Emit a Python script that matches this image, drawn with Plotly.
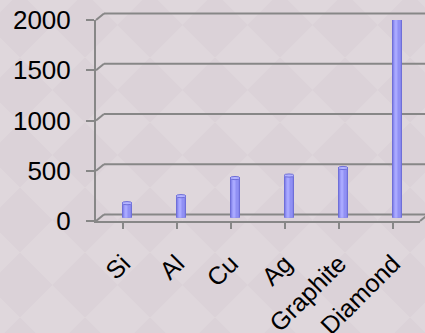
import plotly.graph_objects as go

# ---- data ----
categories = ["Si", "Al", "Cu", "Ag", "Graphite", "Diamond"]
values = [145, 215, 395, 420, 495, 2000]
y_ticks = [0, 500, 1000, 1500, 2000]

# ---- layout geometry (pixels) ----
W, H = 425, 333
L, R = 96, 420          # front plane x extent
Y0, YT = 221, 20        # front plane: pixel of value 0 and of value 2000
YMAX = 2000
DX, DY = 8, 6.5         # depth offset of back wall (right, up)
BAR_PX = 10

n = len(categories)
cat_px = (R - L) / n
val_px = (Y0 - YT) / YMAX

def px_to_paper_x(px):
    return (px - L) / (R - L)

def py_to_paper_y(py):
    return (Y0 - py) / (Y0 - YT)

def front_y(v):
    return Y0 - v * val_px

BG_LIGHT = "rgb(223,215,220)"
BG_DARK = "rgb(219,210,216)"
GRID = "rgb(135,135,135)"

fig = go.Figure()

# invisible trace so the front axes (ticks, labels) are rendered
fig.add_trace(go.Scatter(x=list(range(n)), y=values, mode="none", xaxis="x", yaxis="y",
                         hoverinfo="skip", showlegend=False))

# cylinder bars drawn on the mid-depth plane (x2/y2)
bw = BAR_PX / cat_px
fig.add_trace(go.Bar(x=list(range(n)), y=values, width=bw, marker=dict(color="#6f6fd8", line=dict(width=0)),
                     xaxis="x2", yaxis="y2", hoverinfo="skip"))
fig.add_trace(go.Bar(x=list(range(n)), y=values, width=bw * 0.75, marker=dict(color="#9090f4", line=dict(width=0)),
                     xaxis="x2", yaxis="y2", hoverinfo="skip"))
fig.add_trace(go.Bar(x=list(range(n)), y=values, width=bw * 0.3, offset=-bw * 0.25,
                     marker=dict(color="#a9a9ff", line=dict(width=0)),
                     xaxis="x2", yaxis="y2", hoverinfo="skip"))

shapes = []

# decorative diamond lattice background (very subtle)
P = 65
h = P / 2
for k in range(-1, 8):
    for m in range(-1, 6):
        cx, cy = 20 + P * k, 25 + P * m
        pts = [(cx - h, cy), (cx, cy - h), (cx + h, cy), (cx, cy + h)]
        path = "M " + " L ".join(f"{px_to_paper_x(a):.5f},{py_to_paper_y(b):.5f}" for a, b in pts) + " Z"
        shapes.append(dict(type="path", xref="paper", yref="paper", layer="below", path=path,
                           fillcolor=BG_DARK, line=dict(width=0)))

# back wall gridlines and side-wall diagonals
for v in y_ticks:
    fy = front_y(v)
    by = fy - DY
    shapes.append(dict(type="line", xref="paper", yref="paper", layer="below",
                       x0=px_to_paper_x(L + DX), x1=px_to_paper_x(R + DX),
                       y0=py_to_paper_y(by), y1=py_to_paper_y(by),
                       line=dict(color=GRID, width=2)))
    shapes.append(dict(type="line", xref="paper", yref="paper", layer="below",
                       x0=0, x1=px_to_paper_x(L + DX),
                       y0=py_to_paper_y(fy), y1=py_to_paper_y(by),
                       line=dict(color=GRID, width=2)))
# floor right diagonal
shapes.append(dict(type="line", xref="paper", yref="paper", layer="below",
                   x0=1, x1=px_to_paper_x(R + DX),
                   y0=py_to_paper_y(Y0), y1=py_to_paper_y(Y0 - DY),
                   line=dict(color=GRID, width=2)))

# elliptical tops of cylinders (mid plane axes)
eh = 1.6 / val_px
for i, v in enumerate(values):
    shapes.append(dict(type="circle", xref="x2", yref="y2", layer="above",
                       x0=i - bw / 2, x1=i + bw / 2, y0=v - eh, y1=v + eh,
                       fillcolor="#b4b4ff", line=dict(color="#6f6fd8", width=1)))

mid_dx = (DX / 2) / cat_px
mid_dy = (DY / 2) / val_px

fig.update_layout(
    width=W, height=H,
    margin=dict(l=L, r=W - R, t=YT, b=H - Y0, pad=0, autoexpand=False),
    paper_bgcolor=BG_LIGHT, plot_bgcolor="rgba(0,0,0,0)",
    showlegend=False, barmode="overlay",
    font=dict(family="Liberation Sans, Arial, sans-serif", color="black"),
    xaxis=dict(range=[-0.5, n - 0.5], tickvals=list(range(n)), ticktext=categories,
               tickson="boundaries", ticks="outside", ticklen=6, tickwidth=2, tickcolor=GRID,
               showline=True, linecolor=GRID, linewidth=2, showgrid=False, zeroline=False,
               tickangle=-45, tickfont=dict(size=25, color="black"), ticklabelstandoff=10,
               automargin=False, fixedrange=True),
    yaxis=dict(range=[0, YMAX], tickvals=y_ticks, ticks="outside", ticklen=8, tickwidth=2,
               tickcolor=GRID, showline=True, linecolor=GRID, linewidth=2, showgrid=False,
               zeroline=False, tickfont=dict(size=26, color="black"), ticklabelstandoff=10,
               automargin=False, fixedrange=True),
    xaxis2=dict(range=[-0.5 - mid_dx, n - 0.5 - mid_dx], overlaying="x", visible=False, fixedrange=True),
    yaxis2=dict(range=[0 - mid_dy, YMAX - mid_dy], overlaying="y", visible=False, fixedrange=True),
    shapes=shapes,
)

fig.write_html("out.html")
